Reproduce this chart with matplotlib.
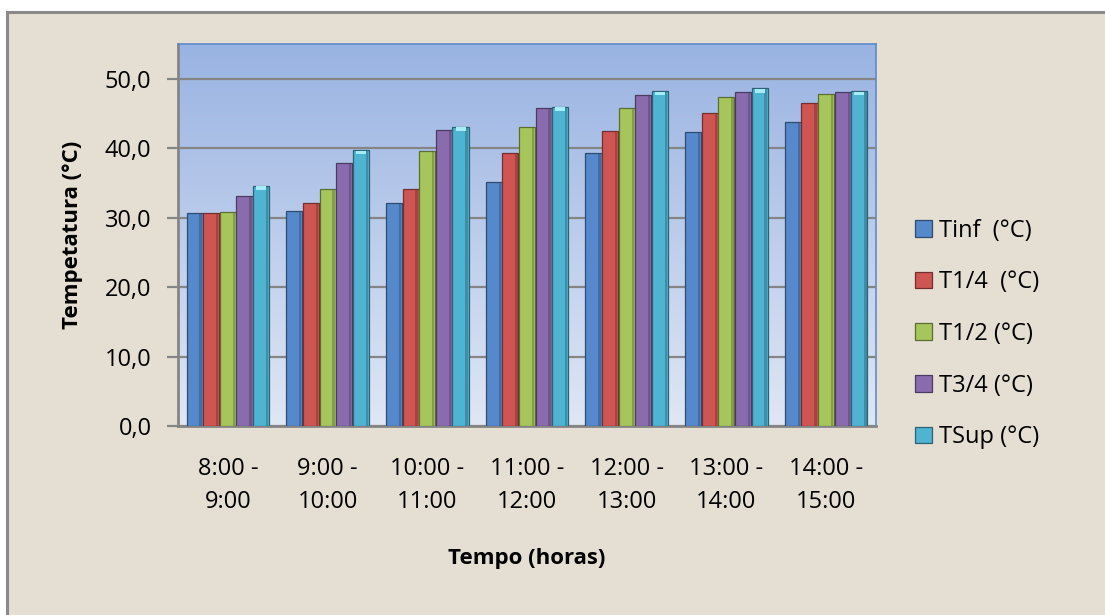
import numpy as np
import matplotlib.pyplot as plt
from matplotlib.patches import Rectangle
from matplotlib.colors import to_rgb

# temperature readings per time slot
periods = ["8:00 -\n9:00", "9:00 -\n10:00", "10:00 -\n11:00", "11:00 -\n12:00",
           "12:00 -\n13:00", "13:00 -\n14:00", "14:00 -\n15:00"]
series_names = ["Tinf  (°C)", "T1/4  (°C)", "T1/2 (°C)", "T3/4 (°C)", "TSup (°C)"]

t_inf = [30.6, 30.9, 32.1, 35.2, 39.3, 42.3, 43.8]
t_14 = [30.6, 32.1, 34.1, 39.3, 42.5, 45.1, 46.5]
t_12 = [30.8, 34.1, 39.6, 43.0, 45.8, 47.4, 47.8]
t_34 = [33.1, 37.9, 42.6, 45.8, 47.7, 48.1, 48.1]
t_sup = [34.6, 39.7, 43.1, 46.0, 48.2, 48.6, 48.2]

series = [t_inf, t_14, t_12, t_34, t_sup]
colors = ["#5589cb", "#cf5553", "#a6c65c", "#8a6cae", "#4fb3d2"]

FONT = "Open Sans"
bg = "#e5ded2"

fig = plt.figure(figsize=(11.05, 6.15), dpi=100, facecolor="white")

# chart area panel with grey frame
fig.add_artist(Rectangle((7 / 1105, -0.05), 1.1, 0.05 + 1 - 12 / 615,
                         transform=fig.transFigure, facecolor=bg,
                         edgecolor="#8a8a8a", linewidth=2.2, zorder=0))

ax = fig.add_axes([178 / 1105, 1 - 426 / 615, 698 / 1105, 382 / 615])
ax.set_xlim(-0.5, len(periods) - 0.5)
ax.set_ylim(0, 55)

# vertical blue gradient behind the bars
grad = np.linspace(0, 1, 256).reshape(-1, 1)
top = np.array(to_rgb("#99b3e2"))
bottom = np.array(to_rgb("#e0e7f5"))
img = bottom + (top - bottom) * grad
ax.imshow(img[:, None, :].repeat(2, axis=1), extent=[-0.5, len(periods) - 0.5, 0, 55],
          origin="lower", aspect="auto", zorder=0)

ax.yaxis.grid(True, color="#858585", linewidth=1.6, zorder=1)
ax.set_axisbelow(True)

x = np.arange(len(periods))
w = 1 / 6
for j, (vals, c) in enumerate(zip(series, colors)):
    pos = x + (j - 2) * w
    dark = tuple(v * 0.55 for v in to_rgb(c))
    ax.bar(pos, vals, width=w * 0.97, color=c, edgecolor=dark, linewidth=0.9,
           label=series_names[j], zorder=3)
    # shaded right edge for the bevel look
    ax.bar(pos + w * 0.36, vals, width=w * 0.14, color=dark, alpha=0.45,
           linewidth=0, zorder=4)
    if j == 4:
        ax.bar(pos, [0.5] * len(vals), bottom=np.array(vals) - 0.6, width=w * 0.6,
               color="#a6ecf7", linewidth=0, zorder=4)

ax.set_yticks(np.arange(0, 51, 10))
ax.set_yticklabels([f"{v:.1f}".replace(".", ",") for v in np.arange(0, 51, 10)])
ax.set_xticks(x)
ax.set_xticklabels(periods, linespacing=1.55)
ax.tick_params(axis="y", length=8, width=1.6, color="#858585", pad=11, labelsize=17)
ax.tick_params(axis="x", length=0, pad=22, labelsize=17)
for lbl in ax.get_xticklabels() + ax.get_yticklabels():
    lbl.set_fontfamily(FONT)

for side in ["left", "bottom"]:
    ax.spines[side].set_color("#858585")
    ax.spines[side].set_linewidth(2)
for side in ["top", "right"]:
    ax.spines[side].set_color("#5b8ccc")
    ax.spines[side].set_linewidth(1.2)

ax.set_xlabel("Tempo (horas)", fontfamily=FONT, fontweight="bold", fontsize=16,
              labelpad=24)
ax.set_ylabel("Tempetatura (°C)", fontfamily=FONT, fontweight="bold", fontsize=16,
              labelpad=16)

leg = fig.legend(loc="center left", bbox_to_anchor=(915 / 1105, 1 - 334 / 615),
                 frameon=False, prop={"family": FONT, "size": 17},
                 handlelength=0.7, handleheight=0.7, handletextpad=0.3,
                 labelspacing=1.17, borderpad=0, borderaxespad=0)

fig.savefig("out.png", dpi=100, facecolor="white")
